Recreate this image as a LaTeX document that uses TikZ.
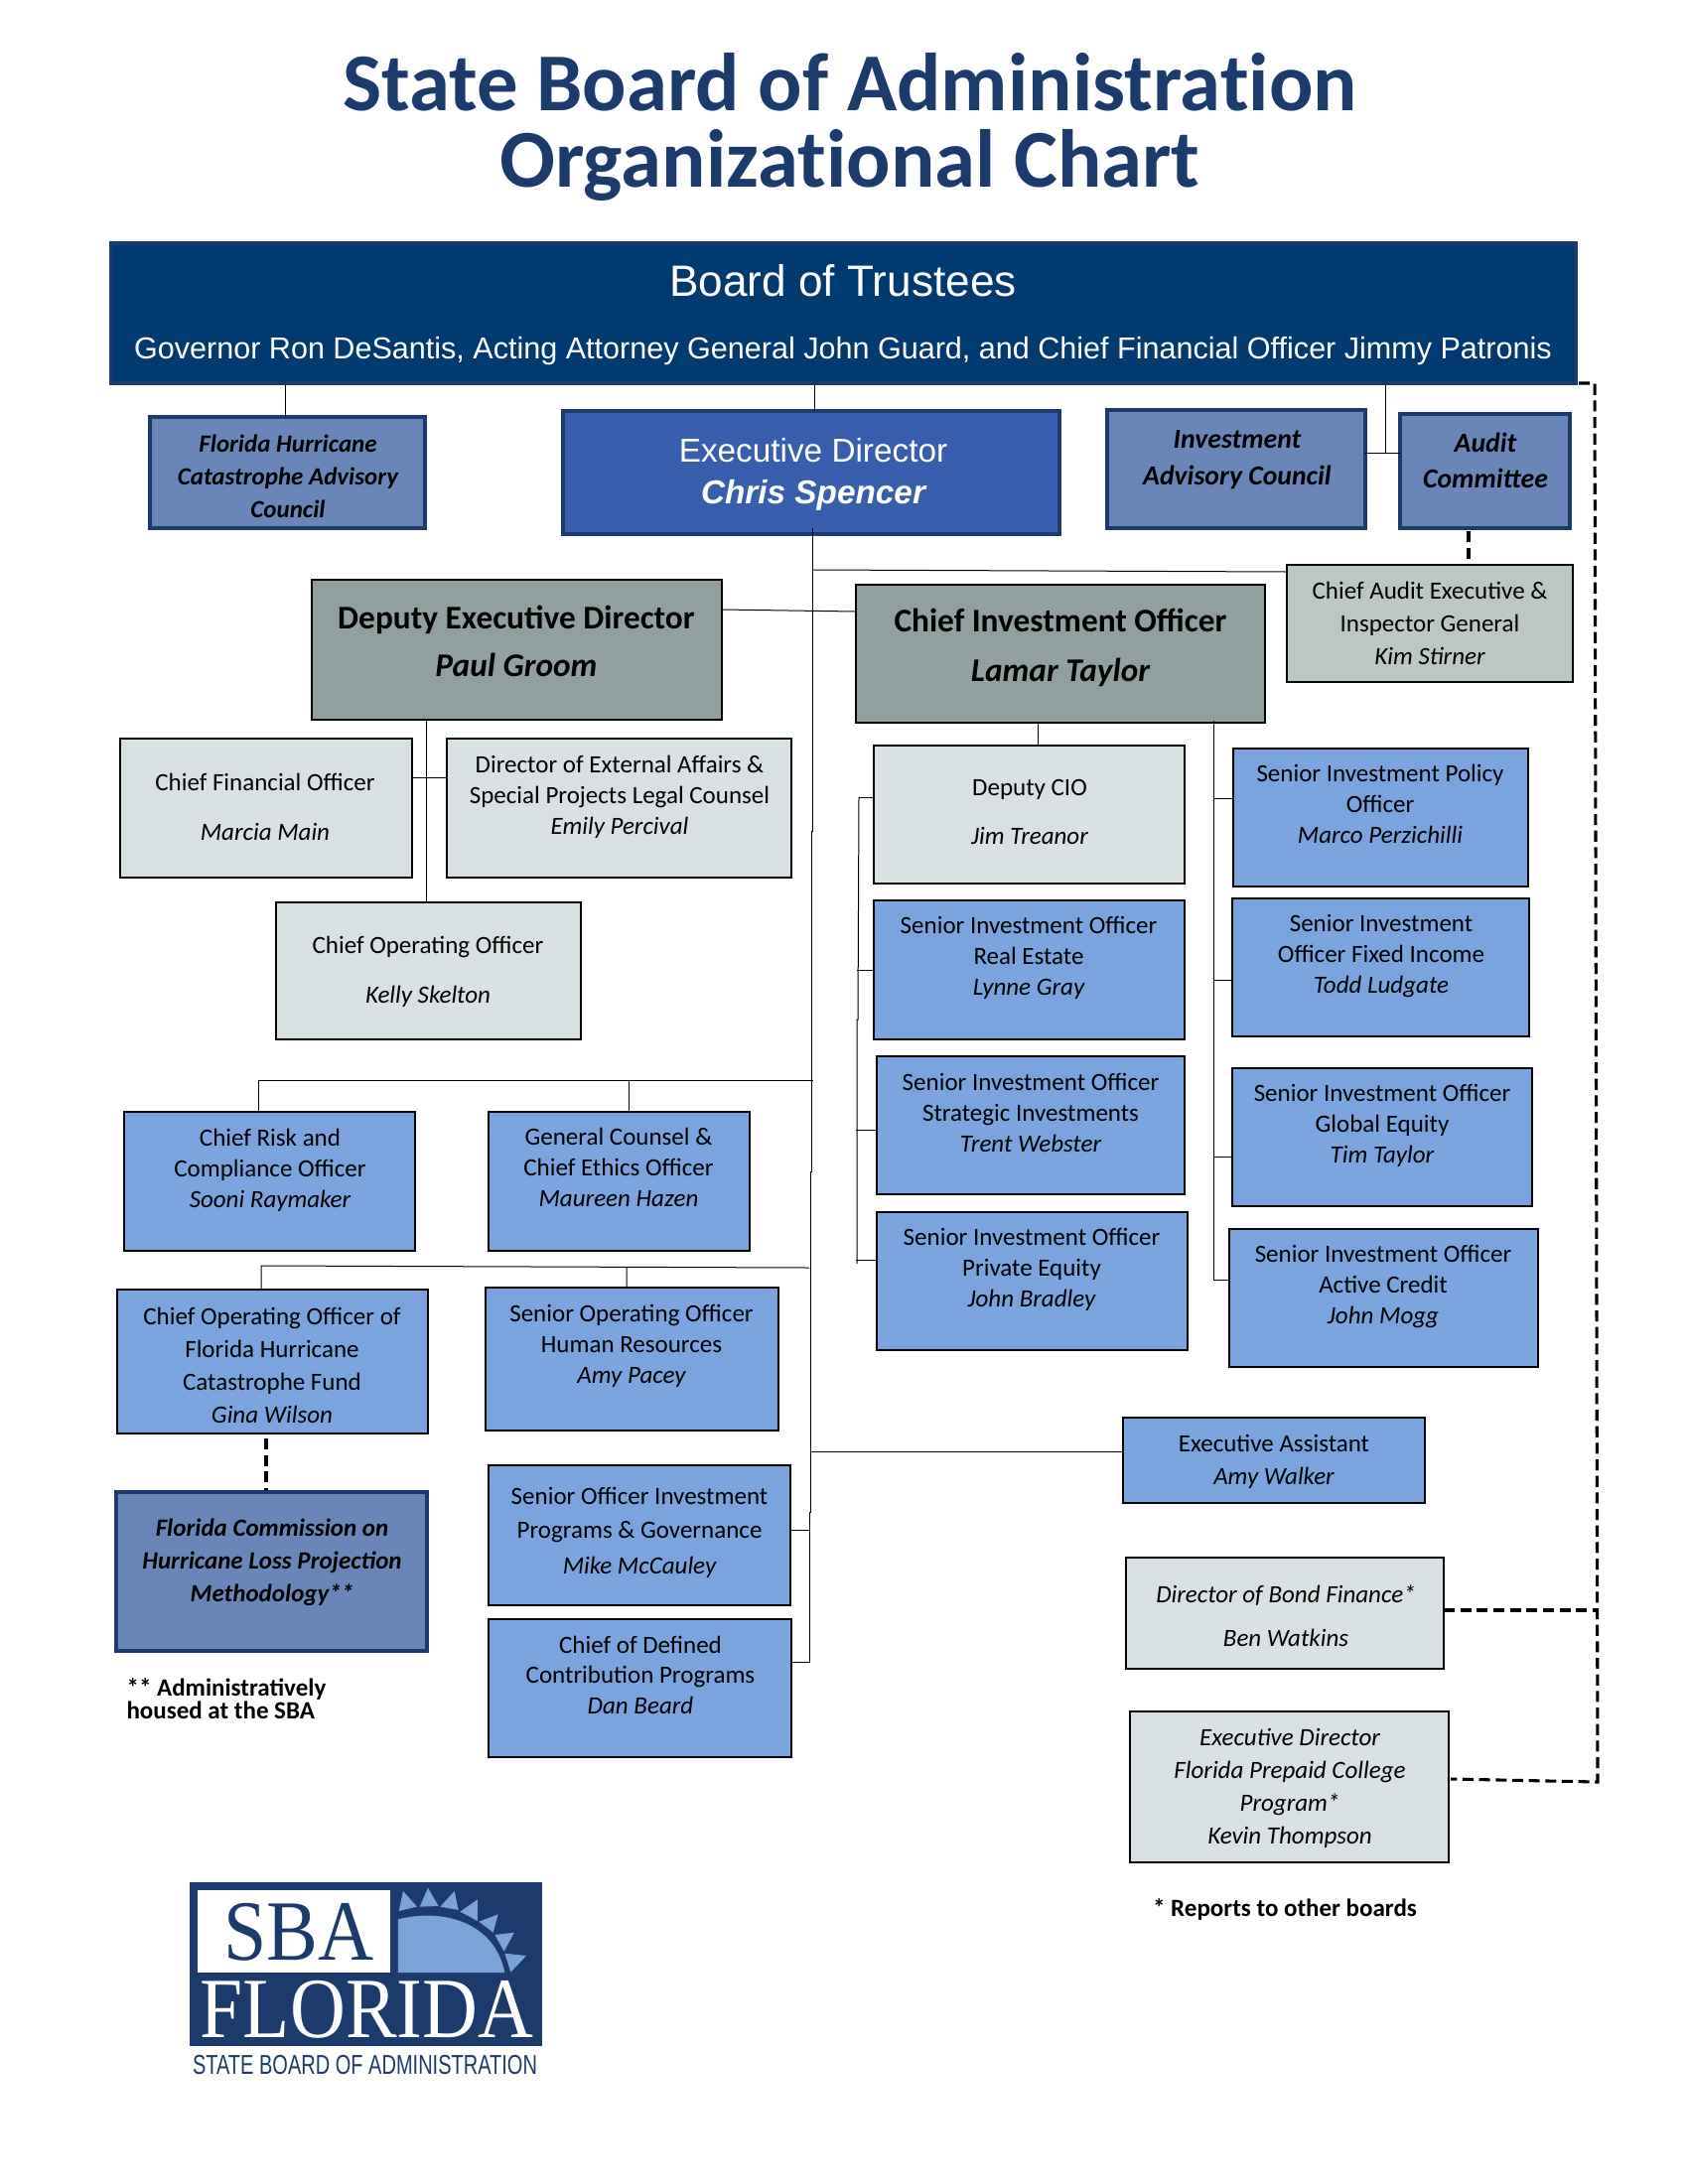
\documentclass[tikz,border=0pt]{standalone}
\usepackage{fontspec}
\usepackage{graphicx}
\setmainfont{Carlito}
\newfontfamily\arl{Liberation Sans}
\newfontfamily\lsrf{Liberation Serif}
\newfontfamily\ttlfont[Ligatures=NoCommon]{Carlito}
\definecolor{navy}{HTML}{1C3A6B}
\definecolor{bdfill}{HTML}{003A70}
\definecolor{edfill}{HTML}{3A5EAE}
\definecolor{midblue}{HTML}{6A86B8}
\definecolor{blue}{HTML}{7BA3DD}
\definecolor{slate}{HTML}{919F9E}
\definecolor{sage}{HTML}{BCC6C3}
\definecolor{pale}{HTML}{D8E0E2}
\definecolor{logoblue}{HTML}{7BA3D8}
\newcommand\bx[6]{\node[#2,minimum width={(#5-#3)*0.36pt},minimum height={(#6-#4)*0.36pt}] (#1) at ({(#3+#5)/2},{(#4+#6)/2}) {};}
\newcommand\tx[6]{\node[boxtext,font={\fontsize{#5}{#4}\selectfont}] (#1-t) at (#2,#3) {#6};}
\tikzset{
  orgbase/.style={rectangle,inner sep=0pt,outer sep=0pt,draw=black,line width=.4pt},
  thickbox/.style={orgbase,draw=navy,line width=1.4pt},
  boardbox/.style={thickbox,fill=bdfill},
  edbox/.style={thickbox,fill=edfill},
  midbox/.style={thickbox,fill=midblue},
  bluebox/.style={orgbase,fill=blue},
  slatebox/.style={orgbase,fill=slate},
  sagebox/.style={orgbase,fill=sage},
  palebox/.style={orgbase,fill=pale},
  boxtext/.style={inner sep=0pt,outer sep=0pt,align=center,text=black},
  link/.style={line width=.36pt,draw=black},
  dashlink/.style={line width=1.1pt,draw=black,dash pattern=on 4pt off 2pt}
}
\begin{document}
\begin{tikzpicture}[x=0.36pt,y=-0.36pt]
\useasboundingbox (0,0) rectangle (1700,2200);
% title
\node[inner sep=0pt,align=center,text=navy,font={\ttlfont\fontsize{29.8}{27.7}\selectfont\bfseries}] (title) at (856,128) {State Board of Administration\\Organizational Chart};
% boxes
\bx{board}{boardbox}{112}{245}{1587}{386}
\bx{fhcac}{midbox}{151}{420}{428}{532}
\bx{ed}{edbox}{567}{414}{1067}{538}
\bx{iac}{midbox}{1115}{413}{1375}{532}
\bx{audit}{midbox}{1410}{417}{1581}{532}
\bx{dep}{slatebox}{314}{584}{727}{725}
\bx{cio}{slatebox}{862}{589}{1274}{728}
\bx{ae}{sagebox}{1296}{569}{1584}{687}
\bx{dcio}{palebox}{880}{751}{1193}{890}
\bx{spol}{bluebox}{1242}{754}{1539}{893}
\bx{cfo}{palebox}{121}{744}{415}{884}
\bx{dir}{palebox}{450}{744}{797}{884}
\bx{coo}{palebox}{278}{909}{585}{1047}
\bx{sre}{bluebox}{880}{907}{1193}{1047}
\bx{sfi}{bluebox}{1241}{905}{1540}{1044}
\bx{sstr}{bluebox}{883}{1064}{1193}{1203}
\bx{sge}{bluebox}{1241}{1076}{1543}{1215}
\bx{spe}{bluebox}{883}{1221}{1196}{1360}
\bx{sac}{bluebox}{1238}{1238}{1549}{1377}
\bx{cro}{bluebox}{125}{1120}{418}{1260}
\bx{gc}{bluebox}{492}{1120}{755}{1260}
\bx{fhcf}{bluebox}{118}{1299}{431}{1444}
\bx{hr}{bluebox}{489}{1297}{784}{1441}
\bx{ea}{bluebox}{1131}{1428}{1435}{1514}
\bx{fclp}{thickbox,fill=midblue}{117}{1503}{430}{1663}
\bx{soip}{bluebox}{492}{1476}{796}{1617}
\bx{cdc}{bluebox}{492}{1631}{797}{1770}
\bx{bond}{palebox}{1134}{1569}{1454}{1681}
\bx{prep}{palebox}{1138}{1724}{1459}{1876}
% named junctions
\coordinate (m0) at (818,532);\coordinate (m1) at (818,837);\coordinate (m2) at (817,837);
\coordinate (m3) at (817,1180);\coordinate (m4) at (816,1180);\coordinate (m5) at (816,1523);
\coordinate (m6) at (815,1523);\coordinate (m7) at (815,1674);
\coordinate (jae) at (818,574);\coordinate (jae2) at (1295,576);
\coordinate (jd1) at (727,614);\coordinate (jd2) at (861,616);
\coordinate (jcro) at (260,1088);\coordinate (jcrm) at (819,1088);
\coordinate (jgc) at (633,1088);
\coordinate (jfh) at (263,1275);\coordinate (jfhm) at (815,1277);\coordinate (jhr) at (631,1276);
\coordinate (jea) at (817,1462);\coordinate (jsoip) at (816,1541);
\coordinate (ja) at (287,388);\coordinate (jb) at (820,388);\coordinate (jc) at (1395,388);\coordinate (jc2) at (1395,456);
\coordinate (jdv) at (429,725);\coordinate (jdh) at (429,783);
\coordinate (jcv) at (1045,728);
\coordinate (jr0) at (1222,726);\coordinate (jr1) at (1222,987);\coordinate (jr2) at (1222,1165);\coordinate (jr3) at (1222,1289);\coordinate (jr4) at (1222,804);
\coordinate (jl0) at (865,803);\coordinate (jl1) at (864,1027);\coordinate (jl2) at (863,1027);\coordinate (jl3) at (863,1273);
\coordinate (jl4) at (863,977);\coordinate (jl5) at (862,1138);\coordinate (jl6) at (862,1269);
% connectors
\draw[link] (ja) -- (ja |- fhcac.north);
\draw[link] (jb) -- (jb |- ed.north);
\draw[link] (jc) -- (jc2) (iac.east |- jc2) -- (audit.west |- jc2);
\draw[link] (m0) -- (m1) -- (m2) -- (m3) -- (m4) -- (m5) -- (m6) -- (m7) -- (cdc.east |- m7);
\draw[link] (jae) -- (jae2);
\draw[link] (jd1) -- (jd2);
\draw[link] (jdv) -- (jdv |- coo.north) (cfo.east |- jdh) -- (dir.west |- jdh);
\draw[link] (jcv) -- (jcv |- dcio.north);
\draw[link] (jr0) -- (jr3) -- (sac.west |- jr3);
\draw[link] (jr4) -- (spol.west |- jr4) (jr1) -- (sfi.west |- jr1) (jr2) -- (sge.west |- jr2);
\draw[link] (jl0) -- (jl1) -- (jl2) -- (jl3);
\draw[link] (jl0) -- (dcio.west |- jl0) (jl4) -- (sre.west |- jl4) (jl5) -- (sstr.west |- jl5) (jl6) -- (spe.west |- jl6);
\draw[link] (jcrm) -- (jcro) -- (jcro |- cro.north) (jgc) -- (jgc |- gc.north);
\draw[link] (jfhm) -- (jfh) -- (jfh |- fhcf.north) (jhr) -- (jhr |- hr.north);
\draw[link] (jea) -- (ea.west |- jea);
\draw[link] (jsoip) -- (soip.east |- jsoip);
\coordinate (da0) at (1479,535);\coordinate (da1) at (1479,568);
\coordinate (db0) at (268,1449);\coordinate (db1) at (268,1501);
\coordinate (dc0) at (1590,386);\coordinate (dc1) at (1606,386);\coordinate (dc2) at (1609,1795);
\coordinate (dd1) at (1609,1622);\coordinate (de0) at (1461,1792);
\draw[dashlink] (da0) -- (da1);
\draw[dashlink] (db0) -- (db1);
\draw[dashlink] (dc0) -- (dc1) -- (dc2) -- (de0);
\draw[dashlink] (bond.east |- dd1) -- (dd1);
% texts
\node[inner sep=0pt,text=white,font={\arl\fontsize{15.9}{20}\selectfont}] (board-t1) at (849,283) {Board of Trustees};
\node[inner sep=0pt,text=white,font={\arl\fontsize{11}{14}\selectfont}] (board-t2) at (849,354) {Governor Ron DeSantis, Acting Attorney General John Guard, and Chief Financial Officer Jimmy Patronis};
\tx{fhcac}{290}{480}{11.8}{9}{\bfseries\itshape Florida Hurricane\\\bfseries\itshape Catastrophe Advisory\\\bfseries\itshape Council}
\node[inner sep=0pt,align=center,text=white,font={\arl\fontsize{12}{15}\selectfont}] (ed-t) at (819,478) {Executive Director\\\bfseries\itshape Chris Spencer};
\tx{iac}{1246}{463}{13.3}{10}{\bfseries\itshape Investment\\\bfseries\itshape Advisory Council}
\tx{audit}{1496}{464}{13}{10}{\bfseries\itshape Audit\\\bfseries\itshape Committee}
\tx{dep}{520}{646}{17.5}{12}{\bfseries Deputy Executive Director\\\bfseries\itshape Paul Groom}
\tx{cio}{1068}{652}{18}{12}{\bfseries Chief Investment Officer\\\bfseries\itshape Lamar Taylor}
\tx{ae}{1440}{628}{11.9}{9}{Chief Audit Executive \&\\Inspector General\\\itshape Kim Stirner}
\tx{dcio}{1037}{818}{17.6}{9}{Deputy CIO\\\itshape Jim Treanor}
\tx{spol}{1390}{810}{11.2}{9}{Senior Investment Policy\\Officer\\\itshape Marco Perzichilli}
\tx{cfo}{267}{813}{18}{9}{Chief Financial Officer\\\itshape Marcia Main}
\tx{dir}{624}{803}{11.2}{9}{Director of External Affairs \&\\Special Projects Legal Counsel\\\itshape Emily Percival}
\tx{coo}{431}{979}{18}{9}{Chief Operating Officer\\\itshape Kelly Skelton}
\tx{sre}{1036}{965}{11.2}{9}{Senior Investment Officer\\Real Estate\\\itshape Lynne Gray}
\tx{sfi}{1391}{963}{11.2}{9}{Senior Investment\\Officer Fixed Income\\\itshape Todd Ludgate}
\tx{sstr}{1038}{1121}{11.2}{9}{Senior Investment Officer\\Strategic Investments\\\itshape Trent Webster}
\tx{sge}{1392}{1134}{11.2}{9}{Senior Investment Officer\\Global Equity\\\itshape Tim Taylor}
\tx{spe}{1039}{1279}{11.2}{9}{Senior Investment Officer\\Private Equity\\\itshape John Bradley}
\tx{sac}{1393}{1296}{11.2}{9}{Senior Investment Officer\\Active Credit\\\itshape John Mogg}
\tx{cro}{272}{1179}{11.2}{9}{Chief Risk and\\Compliance Officer\\\itshape Sooni Raymaker}
\tx{gc}{623}{1176}{11.2}{9}{General Counsel \&\\Chief Ethics Officer\\\itshape Maureen Hazen}
\tx{fhcf}{274}{1375}{11.9}{9}{Chief Operating Officer of\\Florida Hurricane\\Catastrophe Fund\\\itshape Gina Wilson}
\tx{hr}{636}{1356}{11.2}{9}{Senior Operating Officer\\Human Resources\\\itshape Amy Pacey}
\tx{ea}{1283}{1472}{11.9}{9}{Executive Assistant\\\itshape Amy Walker}
\tx{fclp}{274}{1574}{11.9}{9}{\bfseries\itshape Florida Commission on\\\bfseries\itshape Hurricane Loss Projection\\\bfseries\itshape Methodology**}
\tx{soip}{644}{1544}{12}{9}{Senior Officer Investment\\Programs \& Governance\\[1pt]\itshape Mike McCauley}
\tx{cdc}{645}{1687}{11}{9}{Chief of Defined\\Contribution Programs\\\itshape Dan Beard}
\tx{bond}{1295}{1628}{15.9}{9}{\itshape Director of Bond Finance*\\\itshape Ben Watkins}
\tx{prep}{1299}{1801}{11.9}{9}{\itshape Executive Director\\\itshape Florida Prepaid College\\\itshape Program*\\\itshape Kevin Thompson}
\node[inner sep=0pt,align=left,anchor=west,font={\fontsize{9}{8.1}\selectfont\bfseries}] (note2) at (127,1711) {** Administratively\\housed at the SBA};
\node[inner sep=0pt,font={\fontsize{9}{10}\selectfont\bfseries}] (note1) at (1294,1923) {* Reports to other boards};
% logo
\fill[navy] (191,1896) rectangle (546,2061);
\fill[white] (199,1904) rectangle (393,1987);
\begin{scope}[shift={(80,1800)},x=0.12pt,y=-0.12pt]
\fill[logoblue] (963,561) -- (963,400) .. controls (1100,365) and (1255,410) .. (1285,561) -- cycle;
\fill[logoblue] (965,375) -- (978,315) -- (1020,362) -- cycle;
\fill[logoblue] (1028,362) -- (1053,305) -- (1085,360) -- cycle;
\fill[logoblue] (1090,362) -- (1133,315) -- (1145,372) -- cycle;
\fill[logoblue] (1150,377) -- (1203,340) -- (1203,405) -- cycle;
\fill[logoblue] (1207,407) -- (1265,385) -- (1250,440) -- cycle;
\fill[logoblue] (1255,447) -- (1314,440) -- (1283,497) -- cycle;
\fill[logoblue] (1285,503) -- (1350,510) -- (1303,560) -- cycle;
\end{scope}
\node[inner sep=0pt,anchor=base,text=navy] (logo-a) at (301,1974) {\resizebox{54.4pt}{20.6pt}{\lsrf SBA}};
\node[inner sep=0pt,anchor=base,text=white] (logo-b) at (369.5,2052) {\resizebox{120.6pt}{20.6pt}{\lsrf FLORIDA}};
\node[inner sep=0pt,anchor=base,text=navy] (logo-c) at (367.5,2089) {\resizebox{124.9pt}{6.9pt}{\arl STATE BOARD OF ADMINISTRATION}};
\end{tikzpicture}
\end{document}
